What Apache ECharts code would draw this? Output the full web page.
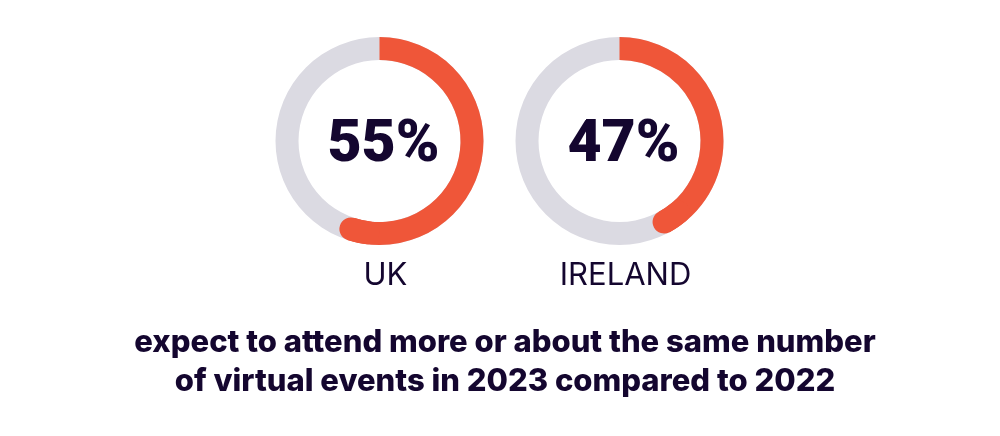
<!DOCTYPE html>
<html><head><meta charset="utf-8">
<script src="https://cdn.jsdelivr.net/npm/echarts@6/dist/echarts.min.js"></script>
<style>html,body{margin:0;padding:0;background:#fff}#c{width:1000px;height:436px}</style>
</head><body><div id="c"></div>
<script>
const regions = ['UK', 'IRELAND'];
const centerLabels = ['55%', '47%'];
const arcValues = [55, 42];
const captionLines = ['expect to attend more or about the same number', 'of virtual events in 2023 compared to 2022'];

const centersX = [379.5, 619.5];
const centerY = 141;
const ORANGE = '#EF5639', GREY = '#DBDAE2', INK = '#14062F';
const CAP = 3;

const polar = [], angleAxis = [], radiusAxis = [], series = [], title = [];
regions.forEach((r, i) => {
  polar.push({ center: [centersX[i], centerY], radius: [81, 104] });
  angleAxis.push({ polarIndex: i, type: 'value', min: 0, max: 100, startAngle: 90, clockwise: true, show: false });
  radiusAxis.push({ polarIndex: i, type: 'category', data: [r], show: false });
  series.push({ type: 'pie', center: [centersX[i], centerY], radius: [81, 104], startAngle: 90, clockwise: true,
    silent: true, label: { show: false }, labelLine: { show: false }, z: 1,
    data: [{ value: 100, itemStyle: { color: GREY } }] });
  series.push({ type: 'pie', center: [centersX[i], centerY], radius: [81, 104], startAngle: 90, clockwise: true,
    silent: true, label: { show: false }, labelLine: { show: false }, z: 2,
    data: [{ value: arcValues[i], itemStyle: { color: ORANGE } }, { value: 100 - arcValues[i], itemStyle: { color: 'rgba(0,0,0,0)' } }] });
  series.push({ type: 'bar', coordinateSystem: 'polar', polarIndex: i, stack: 's' + i, data: [arcValues[i] - CAP],
    barWidth: 23, barCategoryGap: '0%', itemStyle: { color: 'rgba(0,0,0,0)' }, silent: true, z: 3 });
  series.push({ type: 'bar', coordinateSystem: 'polar', polarIndex: i, stack: 's' + i, roundCap: true, data: [CAP],
    barWidth: 23, barCategoryGap: '0%', itemStyle: { color: ORANGE }, silent: true, z: 4 });
  title.push({ text: centerLabels[i], left: centersX[i] - 1, top: 107, textAlign: 'center',
    textStyle: { fontFamily: 'Roboto', fontWeight: 900, fontSize: 59, color: INK, lineHeight: 68 } });
  title.push({ text: r, left: centersX[i] + 1, top: 253, textAlign: 'center',
    textStyle: { fontFamily: 'Inter', fontWeight: 400, fontSize: 31, color: INK, lineHeight: 36 } });
});
captionLines.forEach((t, k) => {
  title.push({ text: t, left: 500, top: 320 + k * 39, textAlign: 'center',
    textStyle: { fontFamily: 'Inter', fontWeight: 800, fontSize: 31, color: INK, lineHeight: 36 } });
});

const chart = echarts.init(document.getElementById('c'), null, { renderer: 'canvas' });
chart.setOption({ animation: false, title, polar, angleAxis, radiusAxis, series });
</script></body></html>
